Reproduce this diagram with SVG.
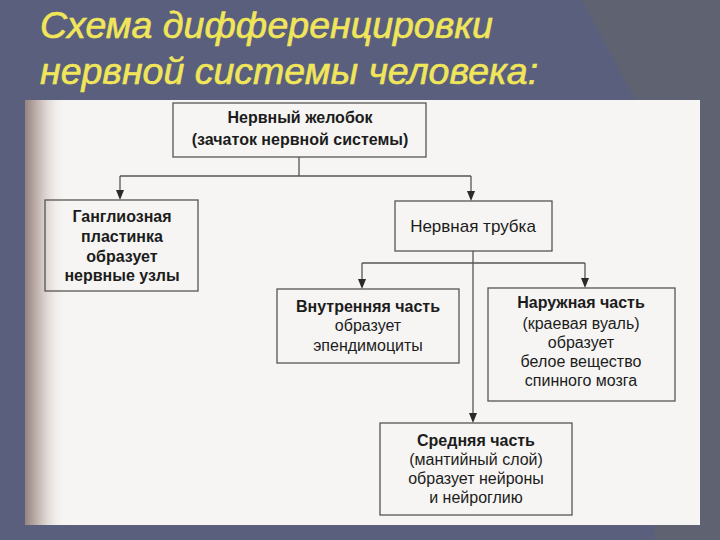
<svg xmlns="http://www.w3.org/2000/svg" width="720" height="540" viewBox="0 0 720 540">
  <defs>
    <linearGradient id="spine" x1="0" y1="0" x2="1" y2="0">
      <stop offset="0" stop-color="#96847f"/>
      <stop offset="0.35" stop-color="#c7b9b4"/>
      <stop offset="1" stop-color="#f4f2f0" stop-opacity="0"/>
    </linearGradient>
    <style>
      .title { font-family: "Liberation Sans", Arial, sans-serif; font-style: italic; font-size: 37.5px; fill: #f1e65a; stroke: #f1e65a; stroke-width: 0.6; }
      .box { fill: none; stroke: #555; stroke-width: 1.3; }
      .t { font-family: "Liberation Sans", Arial, sans-serif; font-size: 16px; fill: #1c1c1c; text-anchor: middle; }
      .b { font-weight: bold; }
      .con { fill: none; stroke: #555; stroke-width: 1.3; }
      .ah { fill: #2a2a2a; }
    </style>
  </defs>

  <!-- slide background -->
  <rect x="0" y="0" width="720" height="540" fill="#5a5f7e"/>
  <polygon points="582,0 720,0 720,540 655,540 635,100" fill="#5f6271"/>

  <!-- title -->
  <text class="title" x="40" y="38">Схема дифференцировки</text>
  <text class="title" x="40" y="84">нервной системы человека:</text>

  <!-- scanned page -->
  <rect x="25" y="100" width="675" height="425" fill="#f6f5f3"/>
  <rect x="25" y="100" width="40" height="425" fill="url(#spine)"/>

  <!-- connectors -->
  <g id="connectors">
    <path class="con" d="M299,157 V176 M120,176 H471"/>
    <path class="con" d="M120,176 V192"/>
    <path class="ah" d="M116,190 L124,190 L120,200 Z"/>
    <path class="con" d="M471,176 V193"/>
    <path class="ah" d="M467,191 L475,191 L471,201 Z"/>
    <path class="con" d="M473,251 V415"/>
    <path class="ah" d="M469,413 L477,413 L473,423 Z"/>
    <path class="con" d="M362,263 H585"/>
    <path class="con" d="M362,263 V281"/>
    <path class="ah" d="M358,279 L366,279 L362,289 Z"/>
    <path class="con" d="M585,263 V280"/>
    <path class="ah" d="M581,278 L589,278 L585,288 Z"/>
  </g>

  <g id="node-groove">
    <rect class="box" x="173" y="103" width="253" height="54"/>
    <text class="t b" x="300" y="123">Нервный желобок</text>
    <text class="t b" x="300" y="145">(зачаток нервной системы)</text>
  </g>

  <g id="node-ganglion">
    <rect class="box" x="45" y="200" width="153" height="91"/>
    <text class="t b" x="122" y="222">Ганглиозная</text>
    <text class="t b" x="122" y="242">пластинка</text>
    <text class="t b" x="122" y="262">образует</text>
    <text class="t b" x="122" y="281">нервные узлы</text>
  </g>

  <g id="node-tube">
    <rect class="box" x="395" y="201" width="157" height="50"/>
    <text class="t" x="473" y="232" style="font-size:17px">Нервная трубка</text>
  </g>

  <g id="node-inner">
    <rect class="box" x="277" y="289" width="182" height="74"/>
    <text class="t b" x="368" y="312">Внутренняя часть</text>
    <text class="t" x="368" y="331">образует</text>
    <text class="t" x="368" y="351">эпендимоциты</text>
  </g>

  <g id="node-outer">
    <rect class="box" x="488" y="288" width="187" height="113"/>
    <text class="t b" x="581" y="308">Наружная часть</text>
    <text class="t" x="581" y="329">(краевая вуаль)</text>
    <text class="t" x="581" y="348">образует</text>
    <text class="t" x="581" y="367">белое вещество</text>
    <text class="t" x="581" y="386">спинного мозга</text>
  </g>

  <g id="node-middle">
    <rect class="box" x="380" y="423" width="192" height="92"/>
    <text class="t b" x="476" y="446">Средняя часть</text>
    <text class="t" x="476" y="465">(мантийный слой)</text>
    <text class="t" x="476" y="484">образует нейроны</text>
    <text class="t" x="476" y="503">и нейроглию</text>
  </g>
</svg>
